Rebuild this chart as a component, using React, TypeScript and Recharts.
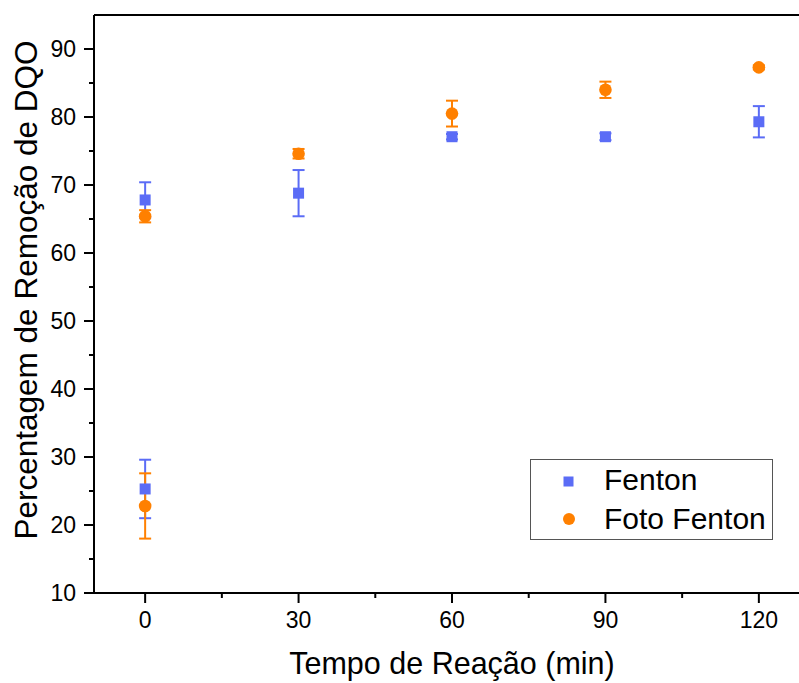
import { ScatterChart, Scatter, XAxis, YAxis, ErrorBar, ReferenceLine, Legend } from 'recharts';

// tempo de reação (min)
const tempos = [0, 0, 30, 60, 90, 120];
// Fenton
const fentonValores = [67.8, 25.3, 68.8, 77.1, 77.1, 79.3];
const fentonErros = [2.6, 4.3, 3.4, 0.4, 0.5, 2.3];
// Foto Fenton
const fotoValores = [65.4, 22.8, 74.6, 80.5, 84.0, 87.3];
const fotoErros = [0.9, 4.8, 0.7, 1.9, 1.2, 0.3];

const xMaiores = [0, 30, 60, 90, 120];
const xMenores = [15, 45, 75, 105];
const yMaiores = [10, 20, 30, 40, 50, 60, 70, 80, 90];
const yMenores = [15, 25, 35, 45, 55, 65, 75, 85];

const AZUL = '#5b6cf6';
const LARANJA = '#ff8000';
const FONTE = '"Liberation Sans", Arial, sans-serif';

const fenton = tempos.map((x, i) => ({ x, y: fentonValores[i], err: fentonErros[i] }));
const foto = tempos.map((x, i) => ({ x, y: fotoValores[i], err: fotoErros[i] }));

const Quadrado = (p: any) => (
  <rect x={p.cx - 5.5} y={p.cy - 5.5} width={11} height={11} fill={AZUL} />
);
const Circulo = (p: any) => <circle cx={p.cx} cy={p.cy} r={6.3} fill={LARANJA} />;

const XTick = (props: any) => {
  const { x, y, payload } = props;
  const maior = xMaiores.includes(payload.value);
  return (
    <g>
      <line x1={x} x2={x} y1={y} y2={y + (maior ? 10 : 5)} stroke="#000" strokeWidth={2} />
      {maior && (
        <text x={x} y={y + 35} textAnchor="middle" fontSize={23} fill="#000" fontFamily={FONTE}>
          {payload.value}
        </text>
      )}
    </g>
  );
};

const YTick = (props: any) => {
  const { x, y, payload } = props;
  const maior = yMaiores.includes(payload.value);
  return (
    <g>
      <line x1={x} x2={x - (maior ? 10 : 5)} y1={y} y2={y} stroke="#000" strokeWidth={2} />
      {maior && (
        <text x={x - 18} y={y + 8} textAnchor="end" fontSize={23} fill="#000" fontFamily={FONTE}>
          {payload.value}
        </text>
      )}
    </g>
  );
};

const Legenda = () => (
  <svg width={244} height={82} style={{ display: 'block' }}>
    <rect x={0.5} y={0.5} width={242} height={80} fill="#fff" stroke="#555" strokeWidth={1} />
    <rect x={33.5} y={17.5} width={10} height={10} fill={AZUL} />
    <circle cx={39} cy={60} r={6} fill={LARANJA} />
    <text x={74} y={31} fontSize={30} fontFamily={FONTE} fill="#000">Fenton</text>
    <text x={74} y={70} fontSize={30} fontFamily={FONTE} fill="#000">Foto Fenton</text>
  </svg>
);

export default function App() {
  return (
    <div style={{ position: 'absolute', left: 0, top: 0, width: 799, height: 683, overflow: 'hidden', background: '#fff' }}>
      <ScatterChart width={830} height={683} margin={{ top: 15, right: 20, left: 0, bottom: 0 }}>
        <XAxis
          type="number"
          dataKey="x"
          domain={[-10, 130]}
          ticks={[...xMaiores, ...xMenores].sort((a, b) => a - b)}
          interval={0}
          allowDataOverflow
          height={90}
          tickSize={0}
          tickMargin={0}
          tickLine={false}
          tick={<XTick />}
          axisLine={{ stroke: '#000', strokeWidth: 2 }}
          label={{
            content: () => (
              <text x={452} y={674} textAnchor="middle" fontSize={30.5} fontFamily={FONTE} fill="#000">
                Tempo de Reação (min)
              </text>
            ),
          }}
        />
        <YAxis
          type="number"
          dataKey="y"
          domain={[10, 95]}
          ticks={[...yMaiores, ...yMenores].sort((a, b) => a - b)}
          interval={0}
          allowDataOverflow
          width={94}
          tickSize={0}
          tickMargin={0}
          tickLine={false}
          tick={<YTick />}
          axisLine={{ stroke: '#000', strokeWidth: 2 }}
          label={{
            content: () => (
              <text
                x={37}
                y={290}
                transform="rotate(-90 37 290)"
                textAnchor="middle"
                fontSize={31.5}
                fontFamily={FONTE}
                fill="#000"
              >
                Percentagem de Remoção de DQO
              </text>
            ),
          }}
        />
        <ReferenceLine y={95} stroke="#000" strokeWidth={2} ifOverflow="visible" />
        <ReferenceLine x={130} stroke="#000" strokeWidth={2} ifOverflow="visible" />
        <Legend
          layout="vertical"
          align="center"
          verticalAlign="middle"
          content={<Legenda />}
          wrapperStyle={{ left: 530, top: 459, width: 244, height: 82 }}
        />
        <Scatter name="Fenton" data={fenton} fill={AZUL} shape={<Quadrado />} isAnimationActive={false}>
          <ErrorBar dataKey="err" direction="y" width={6} stroke={AZUL} strokeWidth={2} isAnimationActive={false} />
        </Scatter>
        <Scatter name="Foto Fenton" data={foto} fill={LARANJA} shape={<Circulo />} isAnimationActive={false}>
          <ErrorBar dataKey="err" direction="y" width={6} stroke={LARANJA} strokeWidth={2} isAnimationActive={false} />
        </Scatter>
      </ScatterChart>
    </div>
  );
}
